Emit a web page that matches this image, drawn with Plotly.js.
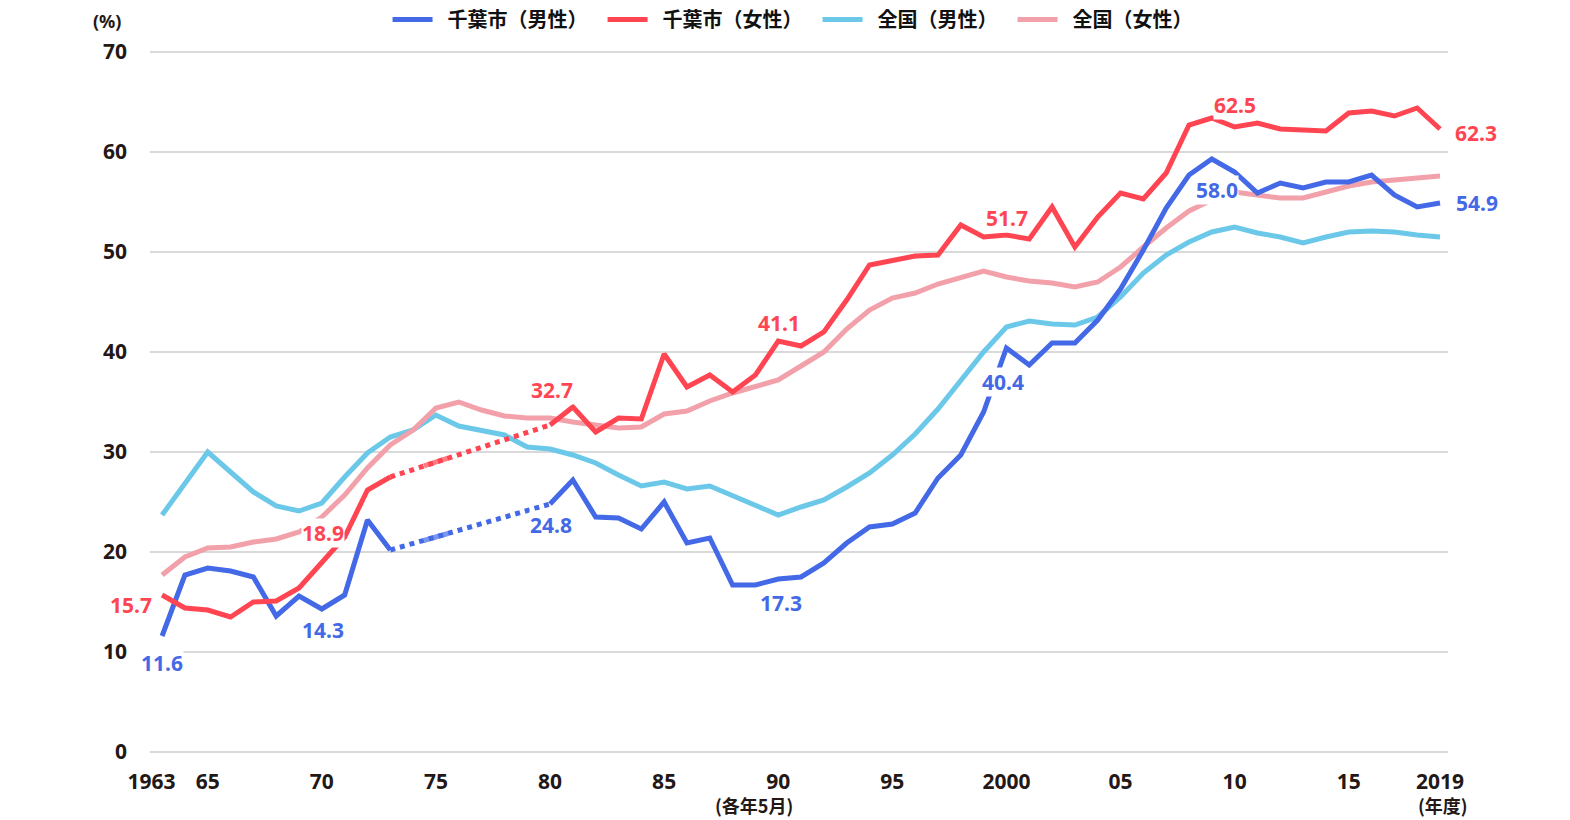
<!DOCTYPE html>
<html>
<head>
<meta charset="utf-8">
<script src="https://cdn.plot.ly/plotly-3.0.1.min.js"></script>
<style>
  html, body { margin: 0; padding: 0; background: #fff; }
  #chart { width: 1570px; height: 820px; }
</style>
</head>
<body>
<div id="chart"></div>
<script>
// ---- data ----
const years = [1963,1964,1965,1966,1967,1968,1969,1970,1971,1972,
  1973,1974,1975,1976,1977,1978,1979,1980,1981,1982,
  1983,1984,1985,1986,1987,1988,1989,1990,1991,1992,
  1993,1994,1995,1996,1997,1998,1999,2000,2001,2002,
  2003,2004,2005,2006,2007,2008,2009,2010,2011,2012,
  2013,2014,2015,2016,2017,2018,2019];

const chibaMale = [11.6,17.7,18.4,18.1,17.5,13.6,15.6,14.3,15.7,23.2,
  20.2,null,null,null,null,null,null,24.8,27.2,23.5,
  23.4,22.3,25.0,20.9,21.4,16.7,16.7,17.3,17.5,18.9,
  20.9,22.5,22.8,23.9,27.4,29.7,34.0,40.4,38.7,40.9,
  40.9,43.2,46.3,50.2,54.4,57.7,59.3,58.0,55.9,56.9,
  56.4,57.0,57.0,57.7,55.7,54.5,54.9];

const chibaFemale = [15.7,14.4,14.2,13.5,15.0,15.1,16.4,18.9,21.5,26.2,
  27.5,null,null,null,null,null,null,32.7,34.5,32.0,
  33.4,33.3,39.8,36.5,37.7,36.0,37.7,41.1,40.6,42.0,
  45.2,48.7,49.2,49.6,49.7,52.7,51.5,51.7,51.3,54.5,
  50.5,53.5,55.9,55.3,57.9,62.7,63.4,62.5,62.9,62.3,
  62.2,62.1,63.9,64.1,63.6,64.4,62.3];

const nationalMale = [23.7,26.9,30.0,28.0,26.0,24.6,24.1,24.9,27.5,29.9,
  31.5,32.2,33.7,32.6,32.1,31.7,30.5,30.3,29.7,28.9,
  27.7,26.6,27.0,26.3,26.6,25.6,24.6,23.7,24.5,25.2,
  26.5,27.9,29.7,31.8,34.3,37.1,40.0,42.5,43.1,42.8,
  42.7,43.5,45.5,47.9,49.7,51.0,52.0,52.5,51.9,51.5,
  50.9,51.5,52.0,52.1,52.0,51.7,51.5];

const nationalFemale = [17.7,19.5,20.4,20.5,21.0,21.3,22.0,23.5,25.7,28.4,
  30.7,32.2,34.4,35.0,34.2,33.6,33.4,33.4,33.0,32.7,
  32.4,32.5,33.8,34.1,35.1,35.9,36.6,37.2,38.6,40.0,
  42.3,44.2,45.4,45.9,46.8,47.5,48.1,47.5,47.1,46.9,
  46.5,47.0,48.5,50.5,52.4,54.1,55.2,56.0,55.7,55.4,
  55.4,56.0,56.6,57.0,57.2,57.5,57.6];

// years without survey in Chiba (dotted bridge)
const gapYears = [1973, 1975, 1980];
const chibaMaleGap = [20.2, 21.5, 24.8];
const chibaFemaleGap = [27.5, 29.0, 32.7];

const seriesNames = ['千葉市（男性）', '千葉市（女性）', '全国（男性）', '全国（女性）'];

const xTickVals = [1963,1965,1970,1975,1980,1985,1990,1995,2000,2005,2010,2015,2019];
const xTickText = ['1963','65','70','75','80','85','90','95','2000','05','10','15','2019'];
const yTickVals = [0,10,20,30,40,50,60,70];

// labelled values: [series index, year, text]
const labelSeries = [0,1,0,1,1,0,1,0,1,0,0,1,1,0];
const labelYears  = [1963,1963,1970,1970,1980,1980,1990,1990,2000,2000,2010,2010,2019,2019];
const labelTexts  = ['11.6','15.7','14.3','18.9','32.7','24.8','41.1','17.3','51.7','40.4','58.0','62.5','62.3','54.9'];

// ---- styles ----
const colors = ['#4469e6', '#ff4552', '#6bc8e9', '#f2a0a9'];
const LW = 5;
const inkColor = '#231815';
const numFont = 'Noto Sans, Noto Sans CJK JP, sans-serif';
const cjkFont = 'Noto Sans CJK JP, Noto Sans, sans-serif';
const SP = '\u2002';

const allSeries = [chibaMale, chibaFemale, nationalMale, nationalFemale];

const traces = [
  {x: years, y: nationalMale, name: SP + seriesNames[2] + SP, legendrank: 3, mode: 'lines',
   line: {color: colors[2], width: LW}, hoverinfo: 'skip'},
  {x: years, y: nationalFemale, name: SP + seriesNames[3] + SP, legendrank: 4, mode: 'lines',
   line: {color: colors[3], width: LW}, hoverinfo: 'skip'},
  {x: gapYears, y: chibaMaleGap, showlegend: false, mode: 'lines+markers',
   line: {color: colors[0], width: LW, dash: 'dot'},
   marker: {symbol: 'line-ew', size: [0, 18, 0], angle: -16, color: colors[0],
            line: {color: colors[0], width: LW}}, hoverinfo: 'skip'},
  {x: gapYears, y: chibaFemaleGap, showlegend: false, mode: 'lines+markers',
   line: {color: colors[1], width: LW, dash: 'dot'},
   marker: {symbol: 'line-ew', size: [0, 18, 0], angle: -18, color: colors[1],
            line: {color: colors[1], width: LW}}, hoverinfo: 'skip'},
  {x: years, y: chibaMale, name: SP + seriesNames[0] + SP, legendrank: 1, mode: 'lines',
   line: {color: colors[0], width: LW}, hoverinfo: 'skip'},
  {x: years, y: chibaFemale, name: SP + seriesNames[1] + SP, legendrank: 2, mode: 'lines',
   line: {color: colors[1], width: LW}, hoverinfo: 'skip'}
];

// offsets (px) of each value label from its point
const labelShift = [
  [0,-27],[-31,-10],[1,-21],[1,30],[2,35],[1,-21],[1,18],[3,-24],
  [1,17],[-3,-34],[-18,-18],[0,22],[36,-4],[37,0]
];

const annotations = labelTexts.map((t, i) => {
  const s = labelSeries[i];
  const idx = years.indexOf(labelYears[i]);
  return {
    x: labelYears[i], y: allSeries[s][idx], xref: 'x', yref: 'y',
    text: t, showarrow: false,
    xshift: labelShift[i][0], yshift: labelShift[i][1],
    xanchor: 'center', yanchor: 'middle',
    bgcolor: 'rgba(255,255,255,1)', borderpad: 0,
    font: {family: numFont, size: 21, color: colors[s], weight: 700}
  };
});

annotations.push(
  {x: 0, y: 1, xref: 'paper', yref: 'paper', text: '(%)', showarrow: false,
   xanchor: 'center', yanchor: 'middle', xshift: -43, yshift: 26,
   font: {family: numFont, size: 18, color: inkColor, weight: 700}},
  {x: 1990, y: 0, xref: 'x', yref: 'paper', text: '(各年5月)', showarrow: false,
   xanchor: 'right', yanchor: 'middle', xshift: 17, yshift: -48,
   font: {family: cjkFont, size: 18, color: inkColor, weight: 700}},
  {x: 2019, y: 0, xref: 'x', yref: 'paper', text: '(年度)', showarrow: false,
   xanchor: 'center', yanchor: 'middle', xshift: 3, yshift: -48,
   font: {family: cjkFont, size: 18, color: inkColor, weight: 700}}
);

const layout = {
  width: 1570, height: 820,
  margin: {l: 150, r: 122, t: 47, b: 63, pad: 0},
  paper_bgcolor: '#ffffff', plot_bgcolor: '#ffffff',
  showlegend: true,
  legend: {
    orientation: 'h', xref: 'container', yref: 'container',
    x: 0.508, xanchor: 'center', y: 1, yanchor: 'top',
    font: {family: cjkFont, size: 20, color: '#111111', weight: 700},
    itemwidth: 40, tracegroupgap: 0, bgcolor: 'rgba(0,0,0,0)'
  },
  xaxis: {
    range: [1962.47, 2019.35], tickmode: 'array',
    tickvals: xTickVals, ticktext: xTickText.map((t, i) => i === 0 ? t + '\u2003' : t),
    tickangle: 0,
    showgrid: false, zeroline: false, showline: false, ticks: '',
    ticklabelstandoff: 10,
    tickfont: {family: numFont, size: 21, color: inkColor, weight: 700}
  },
  yaxis: {
    range: [-0.5, 70.5], tickmode: 'array', tickvals: yTickVals,
    showgrid: true, gridcolor: '#d9d9d9', gridwidth: 2,
    zeroline: false, showline: false, ticks: '',
    ticklabelstandoff: 22,
    tickfont: {family: numFont, size: 21, color: inkColor, weight: 700}
  },
  annotations: annotations
};

Plotly.newPlot('chart', traces, layout, {staticPlot: true, displayModeBar: false});
</script>
</body>
</html>
